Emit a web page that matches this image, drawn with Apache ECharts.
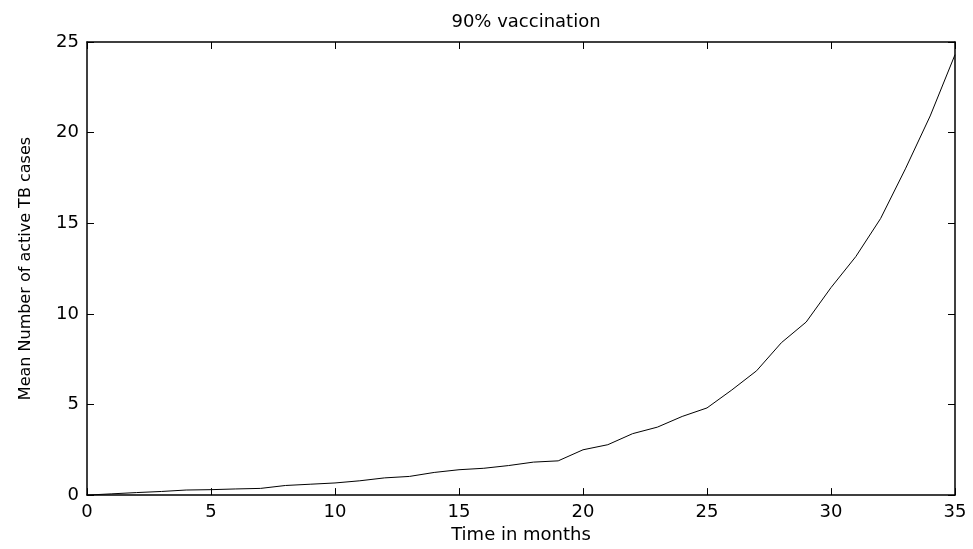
<!DOCTYPE html>
<html>
<head>
<meta charset="utf-8">
<script src="https://cdn.jsdelivr.net/npm/echarts@6/dist/echarts.min.js"></script>
<style>html,body{margin:0;padding:0;background:#fff}#c{width:973px;height:549px}</style>
</head>
<body>
<div id="c"></div>
<script>
var titleText = '90% vaccination';
var xLabel = 'Time in months';
var yLabel = 'Mean Number of active TB cases';
var months = [0,1,2,3,4,5,6,7,8,9,10,11,12,13,14,15,16,17,18,19,20,21,22,23,24,25,26,27,28,29,30,31,32,33,34,35];
var cases = [0,0.07,0.14,0.2,0.28,0.3,0.34,0.37,0.53,0.6,0.67,0.79,0.95,1.03,1.25,1.4,1.48,1.63,1.82,1.89,2.5,2.78,3.39,3.75,4.34,4.81,5.8,6.86,8.41,9.55,11.45,13.16,15.26,18.0,20.92,24.3];
var xTicks = {min:0, max:35, interval:5};
var yTicks = {min:0, max:25, interval:5};

var pts = months.map(function(m,i){return [m, cases[i]];});
var font = 'DejaVu Sans';
var axisLine = {show:true, onZero:false, lineStyle:{color:'#000', width:1.5}};
var ticks = {show:true, inside:true, length:7, lineStyle:{color:'#000', width:1}};

var chart = echarts.init(document.getElementById('c'), null, {renderer:'canvas'});
chart.setOption({
  animation:false,
  backgroundColor:'#fff',
  title:{text:titleText, left:521, top:8, textAlign:'center',
    textStyle:{fontFamily:font, fontSize:18, fontWeight:'normal', color:'#000'}},
  grid:{left:87, top:42, right:18, bottom:50.5, containLabel:false},
  xAxis:[{type:'value', position:'bottom', min:xTicks.min, max:xTicks.max, interval:xTicks.interval,
    axisLine:axisLine, axisTick:ticks, splitLine:{show:false},
    axisLabel:{margin:8, fontFamily:font, fontSize:18, color:'#000'},
    name:xLabel, nameLocation:'middle', nameGap:30,
    nameTextStyle:{fontFamily:font, fontSize:18, color:'#000'}},
   {type:'value', position:'top', min:xTicks.min, max:xTicks.max, interval:xTicks.interval,
    axisLine:axisLine, axisTick:ticks, axisLabel:{show:false}, splitLine:{show:false}}],
  yAxis:[{type:'value', position:'left', min:yTicks.min, max:yTicks.max, interval:yTicks.interval,
    axisLine:axisLine, axisTick:ticks, splitLine:{show:false},
    axisLabel:{margin:8, fontFamily:font, fontSize:18, color:'#000'},
    name:yLabel, nameLocation:'middle', nameGap:53,
    nameTextStyle:{fontFamily:font, fontSize:16, color:'#000'}},
   {type:'value', position:'right', min:yTicks.min, max:yTicks.max, interval:yTicks.interval,
    axisLine:axisLine, axisTick:ticks, axisLabel:{show:false}, splitLine:{show:false}}],
  series:[{type:'line', data:pts, xAxisIndex:0, yAxisIndex:0, showSymbol:false, symbol:'none',
    lineStyle:{color:'#000', width:1}}]
});
</script>
</body>
</html>
